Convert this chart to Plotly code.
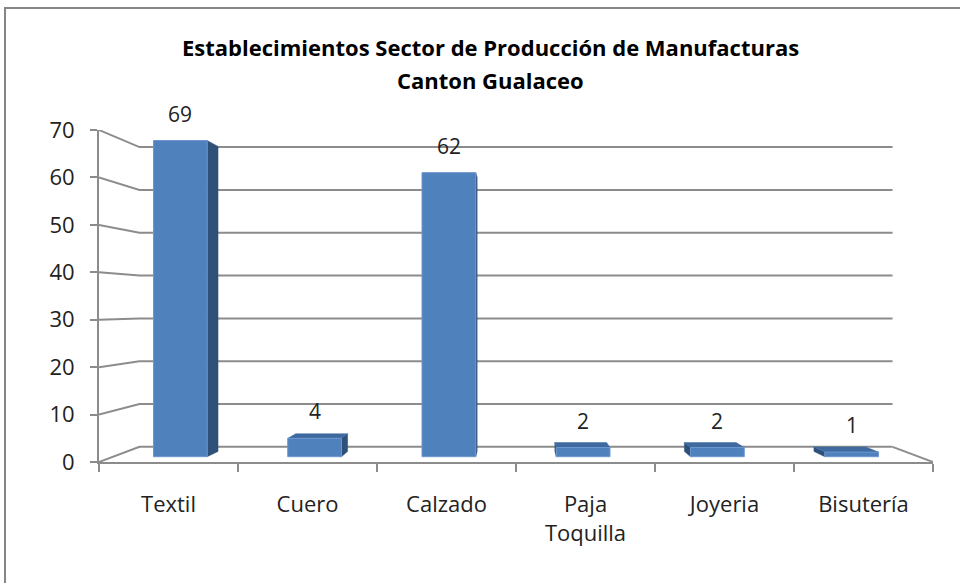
import plotly.graph_objects as go

# ---------------- data ----------------
categories = ["Textil", "Cuero", "Calzado", "Paja<br>Toquilla", "Joyeria", "Bisutería"]
values = [69, 4, 62, 2, 2, 1]
y_ticks = [0, 10, 20, 30, 40, 50, 60, 70]
title_lines = ["Establecimientos Sector de Producción de Manufacturas", "Canton Gualaceo"]

# ---------------- pseudo-3D geometry ----------------
N = len(categories)
YMAX = 70
VX = N / 2.0        # vanishing point, x (slot units)
VV = 32.9           # vanishing point, value units
S_WALL = 0.903      # depth scale of back wall
S_FRONT = 0.966     # depth scale of bar front face
S_BACK = 0.932      # depth scale of bar back face
BAR_W = 0.4

GRID = "#8c8c8c"
FRONT = "#4f81bd"
TOP = "#3f6aa0"
SIDE = "#2f5079"
FONT = "Open Sans"


def proj(x, v, s):
    return VX + (x - VX) * s, VV + (v - VV) * s


fig = go.Figure()

# walls / gridlines
gx, gy = [], []
for t in y_ticks:
    a = proj(0, t, S_WALL)
    b = proj(N, t, S_WALL)
    gx += [0, a[0], b[0], None]
    gy += [t, a[1], b[1], None]
c = proj(N, 0, S_WALL)
gx += [N, c[0], None]
gy += [0, c[1], None]
fig.add_trace(go.Scatter(x=gx, y=gy, mode="lines", line=dict(color=GRID, width=2),
                         hoverinfo="skip", showlegend=False))


def poly(pts, color, lw=0, lc=None):
    xs = [p[0] for p in pts] + [pts[0][0]]
    ys = [p[1] for p in pts] + [pts[0][1]]
    fig.add_trace(go.Scatter(x=xs, y=ys, mode="lines", fill="toself", fillcolor=color,
                             line=dict(color=lc or color, width=lw),
                             hoverinfo="skip", showlegend=False))


annotations = []
for i, v in enumerate(values):
    xl = i + 0.5 - BAR_W / 2
    xr = i + 0.5 + BAR_W / 2
    # side face
    xs_side = xr if (i + 0.5) < VX else xl
    side = [proj(xs_side, 0, S_FRONT), proj(xs_side, v, S_FRONT),
            proj(xs_side, v, S_BACK), proj(xs_side, 0, S_BACK)]
    poly(side, SIDE, 0.5)
    # top face
    if v < VV:
        top = [proj(xl, v, S_FRONT), proj(xr, v, S_FRONT),
               proj(xr, v, S_BACK), proj(xl, v, S_BACK)]
        poly(top, TOP, 0.5)
    # front face
    front = [proj(xl, 0, S_FRONT), proj(xr, 0, S_FRONT),
             proj(xr, v, S_FRONT), proj(xl, v, S_FRONT)]
    poly(front, FRONT, 1, "#6d97cf")
    cx, cy = proj(i + 0.5, v, S_FRONT)
    annotations.append(dict(x=cx, y=cy, xref="x", yref="y", text=str(v), showarrow=False,
                            yanchor="middle", yshift=27,
                            font=dict(family=FONT, size=21, color="#222222")))

# title
annotations.append(dict(x=0.469, y=1.25, xref="paper", yref="paper", text="<b>%s</b>" % title_lines[0],
                        showarrow=False, xanchor="center", yanchor="middle",
                        font=dict(family=FONT, size=22, color="#000000")))
annotations.append(dict(x=0.469, y=1.1506, xref="paper", yref="paper", text="<b>%s</b>" % title_lines[1],
                        showarrow=False, xanchor="center", yanchor="middle",
                        font=dict(family=FONT, size=22, color="#000000")))

fig.update_layout(
    width=960, height=583,
    margin=dict(l=99, r=27, t=130, b=121),
    paper_bgcolor="white", plot_bgcolor="white",
    showlegend=False,
    annotations=annotations,
    shapes=[dict(type="rect", xref="paper", yref="paper",
                 x0=-0.1127, y0=-0.40, x1=1.05, y1=1.3675,
                 line=dict(color="#868686", width=2), layer="below")],
    xaxis=dict(range=[0, N], tickvals=[i + 0.5 for i in range(N)], ticktext=categories,
               ticks="", showline=True, linecolor=GRID, linewidth=2, showgrid=False,
               zeroline=False, fixedrange=True, ticklabelstandoff=22,
               tickfont=dict(family=FONT, size=22, color="#222222"),
               minor=dict(tickvals=list(range(N + 1)), ticks="outside", ticklen=8,
                          tickcolor=GRID, tickwidth=2, showgrid=False)),
    yaxis=dict(range=[0, YMAX], tickvals=y_ticks, ticks="outside", ticklen=7,
               tickcolor=GRID, tickwidth=2, showline=True, linecolor=GRID, linewidth=2,
               showgrid=False, zeroline=False, fixedrange=True, ticklabelstandoff=11,
               tickfont=dict(family=FONT, size=22, color="#222222")),
)

fig.write_html("out.html", config={"displayModeBar": False},
               post_script="document.body.style.margin='0';document.body.style.overflow='hidden';")
